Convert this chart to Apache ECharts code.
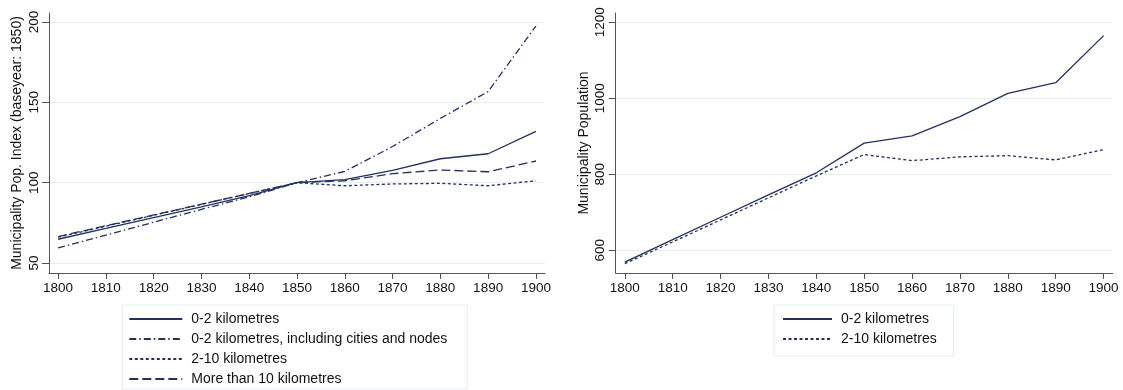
<!DOCTYPE html>
<html>
<head>
<meta charset="utf-8">
<title>Municipality population by distance</title>
<script src="https://cdn.jsdelivr.net/npm/echarts@6/dist/echarts.min.js"></script>
<style>
  html, body { margin: 0; padding: 0; background: #fff; }
  #chart { width: 1123px; height: 390px; }
</style>
</head>
<body>
<div id="chart"></div>
<script>
// Census years on the x axis
const years = [1800, 1810, 1820, 1830, 1840, 1850, 1860, 1870, 1880, 1890, 1900];
const yearTicks = [1800, 1810, 1820, 1830, 1840, 1850, 1860, 1870, 1880, 1890, 1900];

// Left panel: population index, 1850 = 100
const indexTicks = [50, 100, 150, 200];
const idxNear = [64.8, 71.5, 78.3, 85.0, 92.0, 100, 101.9, 107.6, 114.9, 118.0, 131.9];
const idxNearCities = [59.4, 67.4, 75.4, 83.4, 91.2, 100, 107.0, 122.5, 140.0, 156.7, 197.5];
const idxMid = [66.1, 72.9, 79.7, 86.5, 93.3, 100, 98.1, 99.2, 99.6, 98.1, 101.2];
const idxFar = [66.5, 73.2, 79.9, 86.6, 93.3, 100, 101.2, 105.6, 107.9, 106.8, 113.5];

// Right panel: average municipality population
const popTicks = [600, 800, 1000, 1200];
const popNear = [569, 628, 687, 746, 804, 882, 901, 952, 1013, 1041, 1165];
const popMid = [565, 622, 680, 738, 796, 852, 836, 846, 849, 838, 865];

// Series names
const nNear = '0-2 kilometres';
const nNearCities = '0-2 kilometres, including cities and nodes';
const nMid = '2-10 kilometres';
const nFar = 'More than 10 kilometres';

const ink = '#24315e';
const axisGrey = '#555';
const gridGrey = '#e6eef0';
const font = '"Liberation Sans", Arial, Helvetica, sans-serif';

const pair = arr => years.map((y, i) => [y, arr[i]]);
const plain = v => String(v);

function xAxisFor(gridIndex) {
  return {
    type: 'value', gridIndex, min: 1798.1, max: 1901.9,
    axisLine: { show: true, lineStyle: { color: axisGrey, width: 1 } },
    axisTick: { show: true, length: 6, customValues: yearTicks, lineStyle: { color: axisGrey } },
    axisLabel: { customValues: yearTicks, formatter: plain, margin: 8, color: '#111', fontSize: 13.5, fontFamily: font },
    splitLine: { show: false }
  };
}

function yAxisFor(gridIndex, min, max, ticks, name) {
  return {
    type: 'value', gridIndex, min, max,
    name, nameLocation: 'middle', nameGap: 25, nameRotate: 90,
    nameTextStyle: { color: '#111', fontSize: 14, fontFamily: font },
    axisLine: { show: true, lineStyle: { color: axisGrey, width: 1 } },
    axisTick: { show: true, length: 7, customValues: ticks, lineStyle: { color: axisGrey } },
    axisLabel: { customValues: ticks, formatter: plain, rotate: 90, margin: 8, color: '#111', fontSize: 13.5, fontFamily: font },
    splitLine: { show: true, lineStyle: { color: gridGrey, width: 1 } }
  };
}

function line(name, data, xi, dash) {
  return {
    name, type: 'line', xAxisIndex: xi, yAxisIndex: xi, data: pair(data),
    symbol: 'none', silent: true, animation: false,
    lineStyle: { color: ink, width: 1.3, type: dash },
    itemStyle: { color: ink }
  };
}

// Legend keys show only the line pattern, no marker
const legendBase = {
  orient: 'vertical', itemGap: 6, itemHeight: 14,
  borderColor: '#e6eef0', borderWidth: 1, backgroundColor: '#fff',
  selectedMode: false,
  itemStyle: { opacity: 0, borderWidth: 0 },
  textStyle: { color: '#111', fontSize: 14, lineHeight: 14, fontFamily: font, padding: [0, 0, 0, 4] }
};

const chart = echarts.init(document.getElementById('chart'), null, { renderer: 'canvas' });
chart.setOption({
  animation: false,
  backgroundColor: '#fff',
  grid: [
    { left: 49, top: 13, width: 496, height: 260 },
    { left: 615.7, top: 13, width: 497, height: 260 }
  ],
  xAxis: [xAxisFor(0), xAxisFor(1)],
  yAxis: [
    yAxisFor(0, 43.8, 205.6, indexTicks, 'Municipality Pop. Index (baseyear: 1850)'),
    yAxisFor(1, 540.3, 1224.5, popTicks, 'Municipality Population')
  ],
  legend: [
    Object.assign({}, legendBase, {
      left: 122.3, top: 305, itemWidth: 53, padding: [7, 20, 3, 6],
      data: [nNear, nNearCities, nMid, nFar]
    }),
    Object.assign({}, legendBase, {
      left: 774, top: 305, itemWidth: 49, padding: [7, 13, 10, 8],
      data: [nNear + ' ', nMid + ' ']
    })
  ],
  series: [
    line(nNear, idxNear, 0, 'solid'),
    line(nNearCities, idxNearCities, 0, [7, 3, 1.5, 3]),
    line(nMid, idxMid, 0, [3, 2.5]),
    line(nFar, idxFar, 0, [9, 4]),
    line(nNear + ' ', popNear, 1, 'solid'),
    line(nMid + ' ', popMid, 1, [3, 2.5])
  ]
});
</script>
</body>
</html>
